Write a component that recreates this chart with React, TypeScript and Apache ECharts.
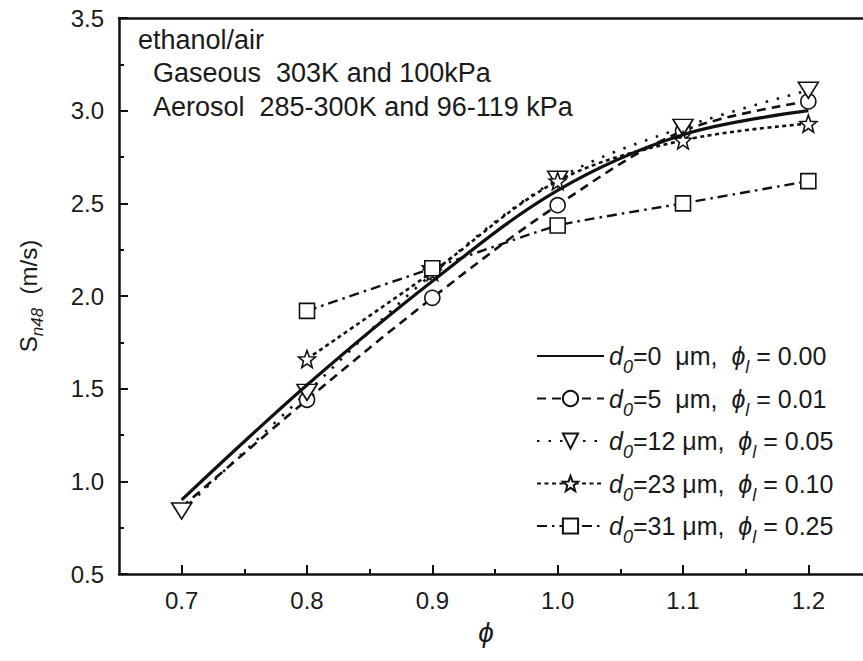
import React, { useEffect, useRef } from "react";
import * as echarts from "echarts";

// ---------- data ----------
const phi = [0.7, 0.8, 0.9, 1.0, 1.1, 1.2];
const gasD0 = [0.9, 1.52, 2.08, 2.57, 2.87, 3.0];
const d5 = [0.86, 1.44, 1.99, 2.49, 2.89, 3.05];
const d12 = [0.84, 1.48, 2.12, 2.63, 2.91, 3.11];
const d23 = [null, 1.66, 2.13, 2.62, 2.84, 2.93];
const d31 = [null, 1.92, 2.15, 2.38, 2.5, 2.62];

const d0Labels = ["0", "5", "12", "23", "31"];
const phiLLabels = ["0.00", "0.01", "0.05", "0.10", "0.25"];

const xMajorTicks = [0.7, 0.8, 0.9, 1.0, 1.1, 1.2];
const xMinorTicks = [0.75, 0.85, 0.95, 1.05, 1.15];

const noteLines = [
  "ethanol/air",
  "Gaseous  303K and 100kPa",
  "Aerosol  285-300K and 96-119 kPa",
];

// ---------- helpers ----------
const FONT = "Liberation Sans, Arial, sans-serif";
const INK = "#1a1a1a";
const PHI = "\u03D5";

function starPath(): string {
  const pts: string[] = [];
  for (let i = 0; i < 10; i++) {
    const r = i % 2 === 0 ? 50 : 21;
    const a = -Math.PI / 2 + (i * Math.PI) / 5;
    pts.push(`${(50 + r * Math.cos(a)).toFixed(2)},${(52 + r * Math.sin(a)).toFixed(2)}`);
  }
  return "path://M" + pts.join(" L") + " Z";
}
const STAR = starPath();

const names = d0Labels.map((d, i) => `d0=${d} μm, φl = ${phiLLabels[i]}`);

function pair(ys: (number | null)[]) {
  return phi.map((x, i) => [x, ys[i]]).filter((p) => p[1] !== null);
}

const hollow = { color: "#fff", borderColor: "#111", borderWidth: 1.6 };

export default function App() {
  const ref = useRef<HTMLDivElement>(null);
  useEffect(() => {
    if (!ref.current) return;
    const chart = echarts.init(ref.current, null, { renderer: "svg" });

    const circleData: any[] = pair(d5).map((p, i) =>
      i === 0 ? { value: p, symbol: "none" } : { value: p }
    );

    const series: any[] = [
      {
        name: names[0],
        type: "line",
        data: pair(gasD0),
        smooth: 0.35,
        symbol: "none",
        itemStyle: { color: "#111" },
        lineStyle: { color: "#111", width: 3.2, type: "solid" },
        z: 5,
      },
      {
        name: names[1],
        type: "line",
        data: circleData,
        smooth: 0.35,
        symbol: "circle",
        symbolSize: 15,
        itemStyle: hollow,
        lineStyle: { color: "#111", width: 2.6, type: [9, 6] },
      },
      {
        name: names[2],
        type: "line",
        data: pair(d12),
        smooth: 0.35,
        symbol: "triangle",
        symbolRotate: 180,
        symbolSize: [20, 16],
        itemStyle: hollow,
        lineStyle: { color: "#111", width: 2.6, type: [2.5, 9] },
      },
      {
        name: names[3],
        type: "line",
        data: pair(d23),
        smooth: 0.35,
        symbol: STAR,
        symbolSize: 17,
        itemStyle: hollow,
        lineStyle: { color: "#111", width: 2.6, type: [4, 3.5] },
      },
      {
        name: names[4],
        type: "line",
        data: pair(d31),
        smooth: 0.15,
        symbol: "rect",
        symbolSize: 15,
        itemStyle: hollow,
        lineStyle: { color: "#111", width: 2.4, type: [10, 5, 2.5, 5] },
      },
    ];

    const tStyle = { fontSize: 25, fontFamily: FONT, color: INK, lineHeight: 40, verticalAlign: "middle" };
    const rich = {
      t: tStyle,
      i: { ...tStyle, fontStyle: "italic" },
      sub: {
        fontSize: 18,
        fontFamily: FONT,
        fontStyle: "italic",
        color: INK,
        lineHeight: 40,
        verticalAlign: "middle",
        padding: [22, 0, 0, 0],
      },
    };

    chart.setOption({
      animation: false,
      backgroundColor: "#fff",
      grid: {
        left: 119,
        top: 18,
        right: 4,
        bottom: 87,
        show: false,
        containLabel: false,
        outerBoundsMode: "none",
      },
      xAxis: [
        {
          type: "value",
          min: 0.65,
          max: 1.25,
          axisLine: { show: true, onZero: false, lineStyle: { color: "#111", width: 2.5 } },
          axisTick: { show: true, inside: true, length: 9, customValues: xMajorTicks, lineStyle: { color: "#111", width: 2 } },
          axisLabel: {
            customValues: xMajorTicks,
            formatter: (v: number) => v.toFixed(1),
            fontSize: 24,
            fontFamily: FONT,
            color: INK,
            margin: 14,
          },
          splitLine: { show: false },
        },
        {
          type: "value",
          min: 0.65,
          max: 1.25,
          position: "bottom",
          axisLine: { show: false, onZero: false },
          axisTick: { show: true, inside: true, length: 5, customValues: xMinorTicks, lineStyle: { color: "#111", width: 2 } },
          axisLabel: { show: false },
          splitLine: { show: false },
        },
        {
          type: "value",
          min: 0.65,
          max: 1.25,
          position: "top",
          axisLine: { show: true, onZero: false, lineStyle: { color: "#111", width: 2.5 } },
          axisTick: { show: false },
          axisLabel: { show: false },
          splitLine: { show: false },
        },
      ],
      yAxis: {
        type: "value",
        min: 0.5,
        max: 3.5,
        interval: 0.5,
        axisLine: { show: true, onZero: false, lineStyle: { color: "#111", width: 2.5 } },
        axisTick: { show: true, inside: true, length: 9, lineStyle: { color: "#111", width: 2 } },
        minorTick: { show: true, splitNumber: 2, length: 5, lineStyle: { color: "#111", width: 2 } },
        axisLabel: {
          formatter: (v: number) => v.toFixed(1),
          fontSize: 24,
          fontFamily: FONT,
          color: INK,
          margin: 15,
        },
        splitLine: { show: false },
      },
      legend: {
        orient: "vertical",
        left: 531,
        top: 331,
        itemWidth: 67,
        itemHeight: 19,
        itemGap: 2.5,
        selectedMode: false,
        data: names.map((n, i) => (i === 0 ? { name: n, itemStyle: { opacity: 0 } } : { name: n })),
        formatter: (name: string) => {
          const i = names.indexOf(name);
          const d = d0Labels[i];
          const gap = d.length === 1 ? "  " : " ";
          return `{i|d}{sub|0}{t|=${d}${gap}μm,  }{i|${PHI}}{sub|l}{t| = ${phiLLabels[i]}}`;
        },
        textStyle: { rich },
      },
      graphic: [
        ...noteLines.map((line, i) => ({
          type: "text",
          left: i === 0 ? 138 : 153,
          top: 26 + i * 33.5,
          style: { text: line, fontSize: 27, fontFamily: FONT, fill: INK },
        })),
        {
          type: "text",
          x: 28,
          y: 296,
          rotation: Math.PI / 2,
          style: {
            text: "{s|S}{sub|n48}{t|  (m/s)}",
            align: "center",
            verticalAlign: "middle",
            rich: {
              s: { fontSize: 24, fontFamily: FONT, fill: INK, lineHeight: 36, verticalAlign: "middle" },
              t: { fontSize: 24, fontFamily: FONT, fill: INK, lineHeight: 36, verticalAlign: "middle" },
              sub: {
                fontSize: 17,
                fontFamily: FONT,
                fontStyle: "italic",
                fill: INK,
                lineHeight: 36,
                verticalAlign: "middle",
                padding: [18, 0, 0, 0],
              },
            },
          },
        },
        {
          type: "text",
          x: 486,
          y: 632,
          style: {
            text: PHI,
            fontSize: 28,
            fontStyle: "italic",
            fontFamily: FONT,
            fill: INK,
            align: "center",
            verticalAlign: "middle",
          },
        },
      ],
      series,
    });
    return () => chart.dispose();
  }, []);

  return (
    <div style={{ position: "absolute", left: 0, top: 0, width: 863, height: 661, overflow: "hidden" }}>
      <div ref={ref} style={{ width: 875, height: 661 }} />
    </div>
  );
}
